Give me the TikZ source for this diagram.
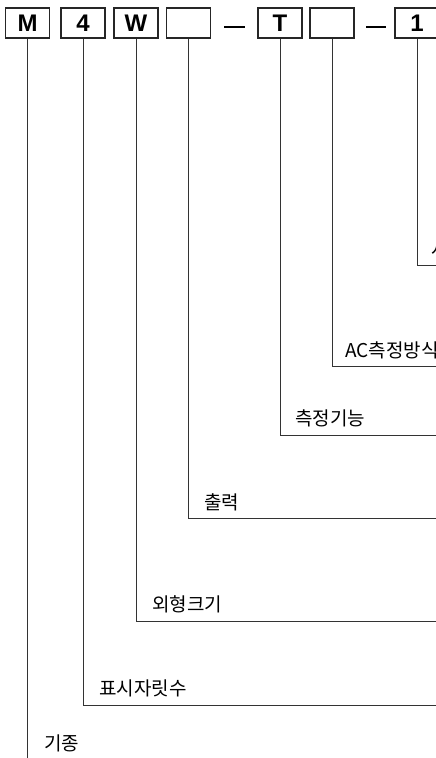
\documentclass[tikz,border=0pt]{standalone}
\usepackage{fontspec}
\setmainfont{Noto Sans CJK KR}
\newfontfamily\boxfont{Liberation Sans}
\begin{document}
\begin{tikzpicture}[x=1pt,y=-1pt,
  codebox/.style={draw=black!85,line width=1.1pt,minimum width=44pt,minimum height=30pt,inner sep=0pt,font=\boxfont\fontsize{24}{24}\bfseries\selectfont},
  leader/.style={draw=black!80,line width=0.9pt},
  lbl/.style={anchor=base west,inner sep=0pt,font=\fontsize{19}{19}\selectfont},
  sep/.style={line width=2pt,black}]
\useasboundingbox (0,0) rectangle (436,758);
\clip (0,0) rectangle (436,758);
\node[codebox] (bM) at (27.5,23) {M};
\node[codebox] (b4) at (83,23) {4};
\node[codebox] (bW) at (136,23) {W};
\node[codebox] (bO) at (188.5,23) {};
\node[codebox] (bT) at (280,23) {T};
\node[codebox] (bA) at (332,23) {};
\node[codebox] (b1) at (417,23) {1};
\draw[sep] (224,27) -- (245,27);
\draw[sep] (366,27) -- (386,27);
% leaders
\coordinate (c1) at (417,265);  \coordinate (e1) at (440,265);
\coordinate (cA) at (332,366);  \coordinate (eA) at (440,366);
\coordinate (cT) at (280,435);  \coordinate (eT) at (440,435);
\coordinate (cO) at (188.5,518);\coordinate (eO) at (440,518);
\coordinate (cW) at (136,621);  \coordinate (eW) at (440,621);
\coordinate (c4) at (83,705);   \coordinate (e4) at (440,705);
\coordinate (cM) at (27.5,760);
\draw[leader] (b1.south) -- (c1) -- (e1);
\draw[leader] (bA.south) -- (cA) -- (eA);
\draw[leader] (bT.south) -- (cT) -- (eT);
\draw[leader] (bO.south) -- (cO) -- (eO);
\draw[leader] (bW.south) -- (cW) -- (eW);
\draw[leader] (b4.south) -- (c4) -- (e4);
\draw[leader] (bM.south) -- (cM);
% labels
\node[lbl] (l1) at (431,256) {사용전원};
\node[lbl] (lA) at (345,357) {AC측정방식};
\node[lbl] (lT) at (295,425) {측정기능};
\node[lbl] (lO) at (204,509) {출력};
\node[lbl] (lW) at (152,611) {외형크기};
\node[lbl] (l4) at (99,695) {표시자릿수};
\node[lbl] (lM) at (44,750) {기종};
\end{tikzpicture}
\end{document}
